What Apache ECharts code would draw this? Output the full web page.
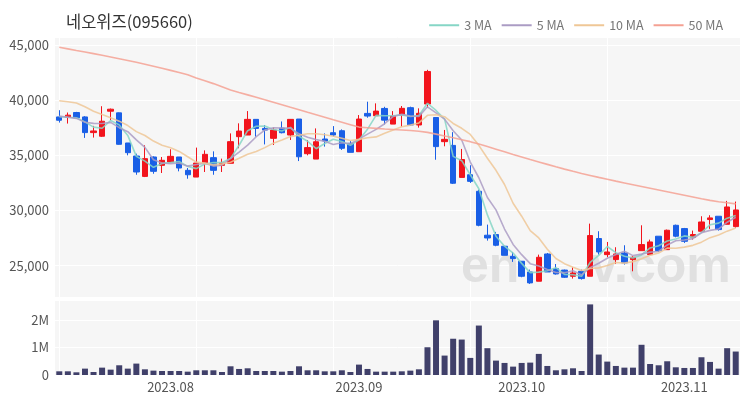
<!DOCTYPE html>
<html><head><meta charset="utf-8">
<script src="https://cdn.jsdelivr.net/npm/echarts@6/dist/echarts.min.js"></script>
<style>html,body{margin:0;padding:0;background:#fff}#c{width:750px;height:400px}</style>
</head><body><div id="c"></div>
<script>
const dates = ['2023-07-13','2023-07-14','2023-07-17','2023-07-18','2023-07-19','2023-07-20','2023-07-21','2023-07-24','2023-07-25','2023-07-26','2023-07-27','2023-07-28','2023-07-31',
'2023-08-01','2023-08-02','2023-08-03','2023-08-04','2023-08-07','2023-08-08','2023-08-09','2023-08-10','2023-08-11','2023-08-14','2023-08-16','2023-08-17','2023-08-18','2023-08-21','2023-08-22','2023-08-23','2023-08-24','2023-08-25','2023-08-28','2023-08-29','2023-08-30','2023-08-31',
'2023-09-01','2023-09-04','2023-09-05','2023-09-06','2023-09-07','2023-09-08','2023-09-11','2023-09-12','2023-09-13','2023-09-14','2023-09-15','2023-09-18','2023-09-19','2023-09-20','2023-09-21','2023-09-22','2023-09-25','2023-09-26','2023-09-27',
'2023-10-04','2023-10-05','2023-10-06','2023-10-10','2023-10-11','2023-10-12','2023-10-13','2023-10-16','2023-10-17','2023-10-18','2023-10-19','2023-10-20','2023-10-23','2023-10-24','2023-10-25','2023-10-26','2023-10-27','2023-10-30','2023-10-31',
'2023-11-01','2023-11-02','2023-11-03','2023-11-06','2023-11-07','2023-11-08','2023-11-09'];
const opens = [38480,38450,38880,38480,37060,36730,39000,38850,36120,34940,33090,34850,34090,34390,34850,33640,33030,34330,34790,34090,34280,36690,36840,38260,37440,36540,37470,36840,38290,35150,34660,36480,37050,37230,36090,35330,38800,38590,39250,37830,38660,39320,37750,39650,38430,36240,35900,33000,33240,31740,27760,27820,26760,25850,25400,24430,23590,26060,24730,24600,24040,24490,24040,27460,26000,25550,26150,25550,26360,26000,27670,26450,28660,28360,27570,28120,29180,29480,28750,28540];
const closes = [38180,38640,38400,37060,37210,38090,39180,36000,35240,33490,34700,33550,34550,34910,33850,33240,34300,35090,33640,34300,36240,37200,38260,37440,37290,37290,37050,38260,34870,35700,36230,36300,36840,35640,35270,38290,38560,39010,38190,38560,39260,37750,38810,42600,35790,36450,32470,34620,32640,28660,27510,26850,25940,25640,24040,23440,25760,24430,24250,23950,24340,23830,27730,26240,26240,26060,25250,25760,26910,27150,26360,28210,27670,27210,27820,28960,29330,28270,30320,30050];
const lows = [37970,37880,38330,36580,36610,36670,38180,35970,35000,33240,33030,33330,33400,34330,33550,32880,33030,33490,33240,33490,34280,35640,36840,36690,35990,35940,36990,36390,34480,35000,34660,35790,36690,35490,35270,35330,38410,38590,37800,37830,37600,37660,37510,39300,34600,35820,32400,33000,32500,28570,27270,26760,25940,25340,23950,23350,23590,24430,24190,23890,23830,23740,24040,26000,25760,25160,25100,24490,26360,26000,26250,26450,27570,27060,27360,28120,28330,28180,28750,28450];
const highs = [39090,38880,38940,38550,37670,39450,39240,38880,36120,35150,35910,34910,34850,35550,34850,33850,35700,35450,35360,34700,36990,37900,39010,38260,37740,37530,38070,38290,38290,36390,37440,36990,37650,37350,36300,38650,39860,39710,39400,39010,39470,39410,39260,42750,38430,37300,37100,35580,34100,31890,28720,28060,26760,26240,25400,24640,26000,26150,25150,24640,24850,24640,28810,28120,27150,26670,26850,25850,28660,27360,27670,28270,28720,28420,28180,29480,29570,29480,30870,30810];
const volumes = [134000,134000,98000,232000,110000,268000,195000,354000,232000,415000,207000,159000,146000,146000,146000,122000,171000,171000,171000,110000,317000,220000,244000,146000,146000,146000,122000,146000,317000,171000,171000,134000,134000,171000,110000,378000,220000,122000,122000,122000,134000,159000,207000,1010000,1990000,707000,1320000,1290000,622000,1800000,976000,524000,439000,305000,439000,451000,768000,329000,171000,207000,244000,146000,2570000,744000,488000,329000,268000,268000,1100000,400000,354000,500000,280000,256000,256000,646000,476000,232000,976000,854000];
const ma3 = [38500,38450,38407,38033,37557,37453,38160,37757,36807,34910,34477,33913,34267,34337,34437,34000,33797,34210,34343,34343,34727,35913,37233,37633,37663,37340,37210,37533,36727,36277,35600,36077,36457,36260,35917,36400,37373,38620,38587,38587,38670,38523,38607,39720,39067,38280,34903,34513,33243,31973,29603,27673,26767,26143,25207,24373,24413,24543,24813,24210,24180,24040,25300,25933,26737,26180,25850,25690,25973,26607,26807,27240,27413,27697,27567,27997,28703,28853,29307,29547];
const ma5 = [38550,38450,38350,38000,37898,37880,37988,37508,37144,36400,35722,34596,34306,34240,34312,34020,34170,34278,34024,34114,34714,35294,35928,36688,37286,37496,37466,37466,36952,36634,36422,36272,35988,36142,36056,36468,36920,37354,37864,38522,38716,38554,38514,39396,38842,38280,37224,36386,34394,32968,31180,30056,28320,26920,25996,25182,24964,24662,24384,24366,24546,24160,24820,25218,25676,26020,26304,25910,26044,26226,26286,26878,27260,27320,27454,27974,28198,28318,28940,29386];
const ma10 = [39950,39850,39750,39400,39000,38700,38400,38100,37700,37149,36801,36292,35907,35692,35356,34871,34383,34292,34132,34213,34367,34732,35103,35356,35700,36105,36380,36697,36820,36960,36959,36869,36727,36547,36345,36445,36596,36671,37003,37289,37592,37737,37934,38630,38682,38498,37889,37450,36895,35905,34730,33640,32353,30657,29482,28181,27510,26491,25652,25181,24864,24562,24741,24801,25021,25283,25232,25365,25631,25951,26153,26591,26585,26682,26840,27130,27538,27789,28130,28420];
const ma50 = [44790,44650,44500,44360,44220,44070,43920,43760,43600,43430,43260,43080,42900,42700,42500,42300,42000,41750,41500,41220,40930,40700,40480,40260,40040,39810,39580,39350,39130,38900,38680,38450,38220,38000,37780,37560,37500,37440,37380,37340,37300,37250,37180,37080,36920,36760,36600,36420,36240,36020,35800,35560,35320,35080,34850,34620,34400,34180,33960,33750,33550,33360,33180,33000,32830,32660,32500,32340,32180,32020,31860,31700,31540,31380,31220,31060,30920,30800,30700,30600];
const title = '네오위즈(095660)';
const maNames = ['3 MA','5 MA','10 MA','50 MA'];
const watermarkParts = ['en', 'v.com'];

const UP = '#f2141c', DOWN = '#1a5fe6';
const FONT = 'Noto Sans CJK KR';
const candles = opens.map((o, i) => [o, closes[i], lows[i], highs[i]]);
const isMonthStart = (idx) => idx > 0 && dates[idx].slice(5, 7) !== dates[idx - 1].slice(5, 7);

const chart = echarts.init(document.getElementById('c'), null, {renderer: 'canvas'});
const maSeries = (name, data, color) => ({
  name, type: 'line', data, xAxisIndex: 0, yAxisIndex: 0,
  symbol: 'none', smooth: false, z: 5,
  lineStyle: {width: 1.6, color, opacity: 0.85}, itemStyle: {color}
});
const wmStyle = {fill: '#e0e0e0', font: 'bold 50px "Liberation Sans", Arial, sans-serif'};
chart.setOption({
  animation: false,
  backgroundColor: '#ffffff',
  textStyle: {fontFamily: FONT},
  title: {text: title, left: 61, top: 8, textStyle: {fontSize: 16.5, fontWeight: 'normal', color: '#333', fontFamily: FONT}},
  legend: {
    data: maNames, right: 22, top: 14, icon: 'rect', itemWidth: 30, itemHeight: 2, itemGap: 10,
    textStyle: {fontSize: 12.5, color: '#777', fontFamily: FONT}
  },
  graphic: [
    {type: 'text', left: 461, top: 243, z: 1, silent: true, style: Object.assign({text: watermarkParts[0]}, wmStyle)},
    {type: 'text', left: 590, top: 243, z: 1, silent: true, style: Object.assign({text: watermarkParts[1]}, wmStyle)}
  ],
  grid: [
    {left: 55, right: 10, top: 37, height: 260, show: true, backgroundColor: '#f6f6f6', borderWidth: 0},
    {left: 55, right: 10, top: 300, height: 75, show: true, backgroundColor: '#f6f6f6', borderWidth: 0}
  ],
  xAxis: [
    {type: 'category', data: dates, gridIndex: 0, boundaryGap: true,
     axisLine: {show: false}, axisTick: {show: false}, axisLabel: {show: false},
     splitLine: {show: true, interval: (i) => i % 16 === 0, alignWithLabel: true, lineStyle: {color: '#ffffff', width: 1}}},
    {type: 'category', data: dates, gridIndex: 1, boundaryGap: true,
     axisLine: {show: false}, axisTick: {show: false},
     axisLabel: {interval: (i) => isMonthStart(i), formatter: (v) => v.slice(0, 4) + '.' + v.slice(5, 7), fontSize: 13, color: '#555', margin: 6, fontFamily: FONT},
     splitLine: {show: true, interval: (i) => i % 16 === 0, alignWithLabel: true, lineStyle: {color: '#ffffff', width: 1}}}
  ],
  yAxis: [
    {type: 'value', gridIndex: 0, min: 22160, max: 45725, splitNumber: 5, scale: true,
     axisLine: {show: false}, axisTick: {show: false},
     axisLabel: {showMinLabel: false, showMaxLabel: false, fontSize: 13, color: '#555', margin: 6, fontFamily: FONT,
       formatter: (v) => (v % 5000 === 0 ? v.toLocaleString('en-US') : '')},
     splitLine: {show: true, lineStyle: {color: '#ffffff', width: 1}}},
    {type: 'value', gridIndex: 1, min: 0, max: 2730000, interval: 1000000,
     axisLine: {show: false}, axisTick: {show: false},
     axisLabel: {showMaxLabel: false, fontSize: 13, color: '#555', margin: 6, fontFamily: FONT,
       formatter: (v) => (v === 0 ? '0' : (v / 1000000) + 'M')},
     splitLine: {show: true, lineStyle: {color: '#ffffff', width: 1}}}
  ],
  series: [
    {name: 'price', type: 'candlestick', data: candles, xAxisIndex: 0, yAxisIndex: 0, barWidth: '68%', z: 3,
     itemStyle: {color: UP, color0: DOWN, borderColor: UP, borderColor0: DOWN, borderWidth: 1}},
    maSeries('3 MA', ma3, '#86d6c6'),
    maSeries('5 MA', ma5, '#ab9cc4'),
    maSeries('10 MA', ma10, '#efc796'),
    maSeries('50 MA', ma50, '#f4a193'),
    {name: 'volume', type: 'bar', data: volumes, xAxisIndex: 1, yAxisIndex: 1, barWidth: '70%',
     itemStyle: {color: '#40406a'}}
  ]
});
</script></body></html>
